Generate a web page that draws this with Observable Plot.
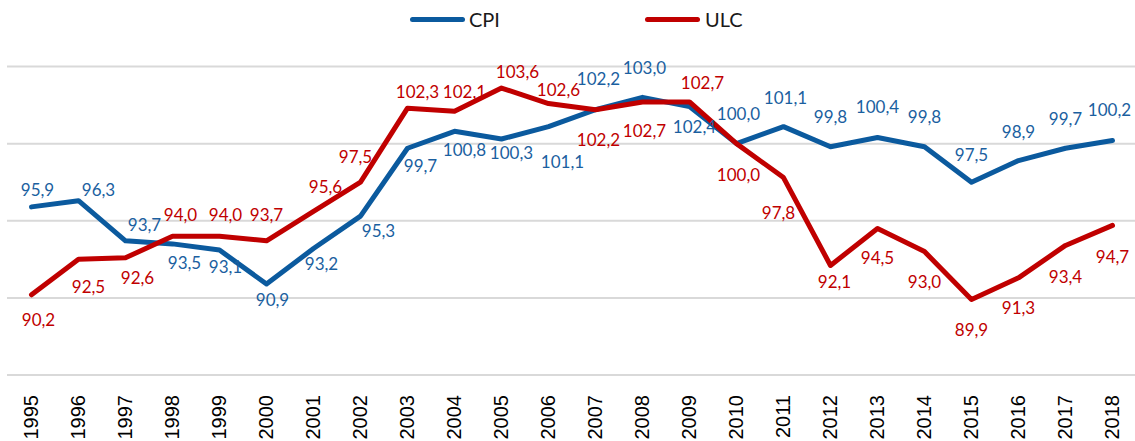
<!DOCTYPE html>
<html>
<head>
<meta charset="utf-8">
<script src="https://cdn.jsdelivr.net/npm/d3@7"></script>
<script src="https://cdn.jsdelivr.net/npm/@observablehq/plot@0.6"></script>
<style>
  html, body { margin: 0; padding: 0; background: #fff; }
  #wrap { width: 1135px; }
  #legend { position: relative; height: 36px; font-family: Lato, "Open Sans", sans-serif; font-size: 20px; color: #1a1a1a; }
  #legend .sw { position: absolute; height: 5px; width: 55px; border-radius: 3px; top: 16.5px; }
  #legend .lb { position: absolute; top: 9px; line-height: 20px; }
</style>
</head>
<body>
<div id="wrap">
  <div id="legend"></div>
  <div id="chart"></div>
</div>
<script>
// ---- data ----
const years = [1995,1996,1997,1998,1999,2000,2001,2002,2003,2004,2005,2006,2007,2008,2009,2010,2011,2012,2013,2014,2015,2016,2017,2018];
const cpi = [95.9,96.3,93.7,93.5,93.1,90.9,93.2,95.3,99.7,100.8,100.3,101.1,102.2,103.0,102.4,100.0,101.1,99.8,100.4,99.8,97.5,98.9,99.7,100.2];
const ulc = [90.2,92.5,92.6,94.0,94.0,93.7,95.6,97.5,102.3,102.1,103.6,102.6,102.2,102.7,102.7,100.0,97.8,92.1,94.5,93.0,89.9,91.3,93.4,94.7];
const seriesNames = ["CPI", "ULC"];
const gridValues = [85, 90, 95, 100, 105];

// ---- label placement (relative offsets, px) ----
const cpiLabelOffset = [[6,-16],[20,-10],[19,-15],[12,20],[6,17],[6,17],[8,16],[18,15],[13,18],[10,19],[10,15],[14,36],[3,-30],[2,-29],[5,21],[2,-29],[2,-28],[0,-29],[0,-30],[0,-29],[0,-27],[0,-28],[0,-29],[-3,-30]];
const ulcLabelOffset = [[7,26],[10,28],[12,21],[8,-21],[6,-21],[0,-25],[12,-24],[-5,-25],[10,-16],[10,-19],[16,-16],[10,-13],[3,31],[2,30],[13,-18],[2,32],[-5,36],[4,17],[0,30],[0,31],[0,31],[0,31],[0,32],[0,32]];

const colors = { CPI: "#0B5A9E", ULC: "#C00000" };
const labelColors = { CPI: "#1B5F9F", ULC: "#C00000" };

const rows = [];
years.forEach((yr, i) => {
  rows.push({ series: "CPI", year: yr, value: cpi[i], off: cpiLabelOffset[i] });
  rows.push({ series: "ULC", year: yr, value: ulc[i], off: ulcLabelOffset[i] });
});

const fmt = v => v.toFixed(1).replace(".", ",");

// legend
const legend = document.getElementById("legend");
const legendPos = { CPI: [410, 469], ULC: [645, 705] };
seriesNames.forEach(s => {
  const sw = document.createElement("div");
  sw.className = "sw";
  sw.style.left = legendPos[s][0] + "px";
  sw.style.background = colors[s];
  legend.appendChild(sw);
  const lb = document.createElement("div");
  lb.className = "lb";
  lb.style.left = legendPos[s][1] + "px";
  lb.textContent = s;
  legend.appendChild(lb);
});

const labelMarks = rows.map(r => Plot.text([r], {
  x: "year", y: "value", text: d => fmt(d.value),
  dx: r.off[0], dy: r.off[1],
  fill: labelColors[r.series],
  fontSize: 17, fontFamily: "Lato, 'Open Sans', sans-serif"
}));

const chart = Plot.plot({
  width: 1135,
  height: 405,
  marginLeft: 7,
  marginRight: 0,
  marginTop: 30,
  marginBottom: 66.5,
  style: { background: "#fff", overflow: "visible" },
  x: { type: "point", domain: years, padding: 0.5, axis: null },
  y: { domain: [85, 105], axis: null },
  marks: [
    Plot.ruleY(gridValues, { stroke: "#d9d9d9", strokeWidth: 2 }),
    Plot.axisX(years, {
      label: null,
      tickRotate: -90, tickSize: 0, tickPadding: 20, tickFormat: d => String(d),
      fontSize: 20, fontFamily: "'Liberation Sans', Arial, sans-serif", fill: "#000"
    }),
    ...seriesNames.map(s => Plot.line(rows.filter(r => r.series === s), {
      x: "year", y: "value", stroke: colors[s], strokeWidth: 5,
      strokeLinejoin: "round", strokeLinecap: "round"
    })),
    ...labelMarks
  ]
});
document.getElementById("chart").appendChild(chart);
</script>
</body>
</html>
